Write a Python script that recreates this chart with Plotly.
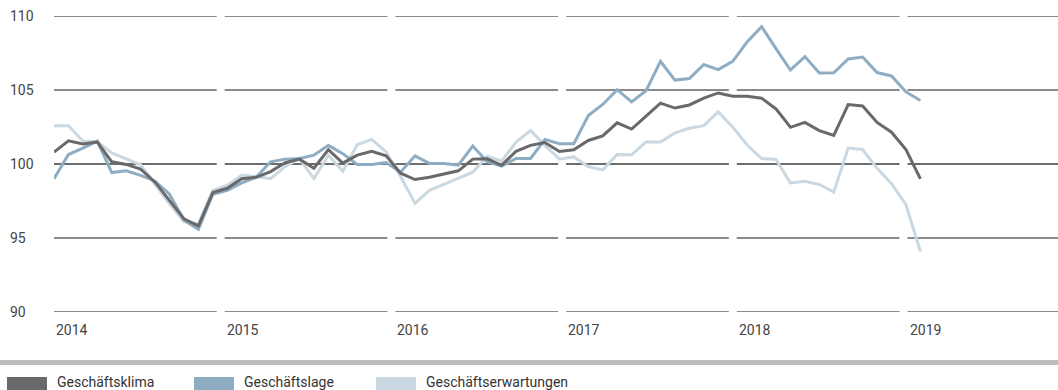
import plotly.graph_objects as go

# ifo-style monthly indices, Jan 2014 .. Jan 2019 (one value per month)
months = [f"{2014 + i // 12}-{i % 12 + 1:02d}" for i in range(61)]

geschaeftsklima = [
    100.8, 101.57, 101.35, 101.48, 100.15, 99.97, 99.65, 98.77, 97.52, 96.3, 95.82, 98.07,
    98.36, 99.01, 99.1, 99.49, 100.09, 100.33, 99.71, 100.97, 100.06, 100.6, 100.86, 100.55,
    99.38, 98.95, 99.1, 99.32, 99.54, 100.33, 100.35, 99.91, 100.86, 101.26, 101.45, 100.84,
    100.96, 101.59, 101.9, 102.78, 102.36, 103.23, 104.11, 103.78, 103.99, 104.45, 104.8, 104.58,
    104.58, 104.45, 103.72, 102.48, 102.81, 102.26, 101.93, 104.02, 103.92, 102.81, 102.15, 100.97,
    99.0,
]
geschaeftslage = [
    99.01, 100.64, 101.08, 101.55, 99.42, 99.54, 99.23, 98.84, 97.96, 96.2, 95.59, 97.96,
    98.22, 98.72, 99.1, 100.15, 100.33, 100.37, 100.6, 101.26, 100.7, 99.97, 99.97, 100.1,
    99.45, 100.55, 100.04, 100.04, 99.93, 101.21, 100.15, 99.86, 100.37, 100.37, 101.66, 101.37,
    101.37, 103.27, 104.02, 105.02, 104.2, 104.95, 106.94, 105.67, 105.78, 106.72, 106.38, 106.94,
    108.25, 109.28, 107.8, 106.35, 107.26, 106.15, 106.16, 107.1, 107.23, 106.18, 105.95, 104.87,
    104.29,
]
geschaeftserwartungen = [
    102.59, 102.59, 101.55, 101.5, 100.75, 100.35, 99.95, 98.6, 97.3, 96.1, 95.95, 98.22,
    98.57, 99.23, 99.16, 99.01, 99.82, 100.37, 99.01, 100.6, 99.52, 101.3, 101.66, 100.82,
    99.16, 97.34, 98.22, 98.62, 99.01, 99.45, 100.52, 100.2, 101.48, 102.26, 101.26, 100.33,
    100.48, 99.82, 99.6, 100.64, 100.62, 101.48, 101.48, 102.1, 102.41, 102.59, 103.52, 102.5,
    101.28, 100.37, 100.3, 98.72, 98.84, 98.62, 98.1, 101.08, 100.98, 99.71, 98.67, 97.25,
    94.1,
]

series_names = ["Geschäftsklima", "Geschäftslage", "Geschäftserwartungen"]
series_values = [geschaeftsklima, geschaeftslage, geschaeftserwartungen]
series_colors = ["#69696b", "#8fadc2", "#cad8e2"]

year_labels = ["2014", "2015", "2016", "2017", "2018", "2019"]
y_ticks = [90, 95, 100, 105, 110]

# layout geometry (pixels)
W, H = 1058, 390
ML, MT, MB = 54, 16, 78
PLOT_W = W - ML
PLOT_H = H - MT - MB
MONTH_PX = 14.44
YEAR_PX = 170.7
GAP_PX = 8
X_MAX = PLOT_W / MONTH_PX
YEAR_UNITS = YEAR_PX / MONTH_PX
GAP_UNITS = GAP_PX / MONTH_PX

x_idx = list(range(len(months)))

fig = go.Figure()

# series lines, darkest drawn last so it sits on top
for name, vals, col in reversed(list(zip(series_names, series_values, series_colors))):
    fig.add_trace(go.Scatter(
        x=x_idx, y=vals, name=name, mode="lines",
        line=dict(color=col, width=3, shape="linear"),
        customdata=months, hovertemplate="%{customdata}: %{y:.1f}<extra>" + name + "</extra>",
        showlegend=False,
    ))

shapes = []
annotations = []

# horizontal grid lines, broken into one segment per year
year_starts = [i * YEAR_UNITS for i in range(len(year_labels))]
for v in y_ticks:
    is_base = v == 100
    for i, xs in enumerate(year_starts):
        xe = year_starts[i + 1] - GAP_UNITS if i + 1 < len(year_starts) else X_MAX
        shapes.append(dict(
            type="line", xref="x", yref="y", x0=xs, x1=xe, y0=v, y1=v,
            line=dict(color="#3c3c3c" if is_base else "#8a8a8a", width=1.3 if is_base else 2),
            layer="below",
        ))
    annotations.append(dict(
        xref="paper", yref="y", x=0, y=v, xshift=-(ML - 8), xanchor="left", yanchor="middle",
        text=str(v), showarrow=False, font=dict(size=14, color="#444444"),
    ))

# year labels at the left end of each segment
for lab, xs in zip(year_labels, year_starts):
    annotations.append(dict(
        xref="x", yref="y", x=xs, y=90, yshift=-18, xanchor="left", yanchor="middle",
        text=lab, showarrow=False, font=dict(size=14, color="#444444"),
    ))

def py(px):
    """pixel row -> paper y coordinate"""
    return (H - MB - px) / PLOT_H

def px_x(px):
    """pixel column -> paper x coordinate"""
    return (px - ML) / PLOT_W

# separator bar above the legend
shapes.append(dict(
    type="rect", xref="paper", yref="paper", x0=px_x(0), x1=px_x(W), y0=py(365), y1=py(360),
    line=dict(width=0), fillcolor="#bdbdbd",
))

# legend: colour swatch plus label
legend_x = [7, 194, 376]
for name, col, lx in zip(series_names, series_colors, legend_x):
    shapes.append(dict(
        type="rect", xref="paper", yref="paper", x0=px_x(lx), x1=px_x(lx + 40),
        y0=py(391), y1=py(377), line=dict(width=0), fillcolor=col,
    ))
    annotations.append(dict(
        xref="paper", yref="paper", x=px_x(lx + 48), y=py(382), xanchor="left", yanchor="middle",
        text=name, showarrow=False, font=dict(size=14, color="#333333"),
    ))

fig.update_layout(
    width=W, height=H,
    margin=dict(l=ML, r=0, t=MT, b=MB),
    paper_bgcolor="white", plot_bgcolor="white",
    font=dict(family="Roboto, Arial, sans-serif", size=14, color="#444444"),
    xaxis=dict(range=[0, X_MAX], showgrid=False, zeroline=False, showticklabels=False,
               showline=False, ticks=""),
    yaxis=dict(range=[90, 110], showgrid=False, zeroline=False, showticklabels=False,
               showline=False, ticks=""),
    shapes=shapes,
    annotations=annotations,
    showlegend=False,
)

fig.write_html("out.html")
